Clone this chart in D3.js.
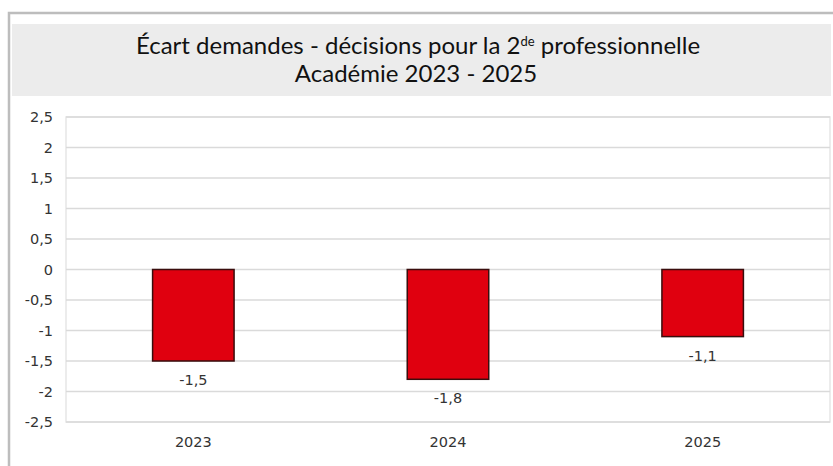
<!DOCTYPE html>
<html>
<head>
<meta charset="utf-8">
<script src="https://cdn.jsdelivr.net/npm/d3@7"></script>
<style>
    body { margin: 0; background: #fff; }
    svg { display: block; }
</style>
</head>
<body>
<svg id="chart" width="833" height="466"></svg>
<script>
// chart data
var years = ["2023", "2024", "2025"];
var ecarts = [-1.5, -1.8, -1.1];
var yTicks = [2.5, 2, 1.5, 1, 0.5, 0, -0.5, -1, -1.5, -2, -2.5];

var svg = d3.select("#chart");
var frFormat = function (v) { return String(v).replace(".", ","); };

var plot = {left: 66, right: 830, top: 117, bottom: 422};
var labelFont = "'DejaVu Sans', sans-serif";
var labelSize = 14.5;

var x = d3.scaleBand()
    .domain(years)
    .range([plot.left, plot.right])
    .paddingInner(0.68)
    .paddingOuter(0.34);

var y = d3.scaleLinear()
    .domain([-2.5, 2.5])
    .range([plot.bottom, plot.top]);

// outer frame
svg.append("path")
    .attr("d", "M9,466 V13 H833")
    .attr("fill", "none")
    .attr("stroke", "#bdbdbd")
    .attr("stroke-width", 2.5);

// title box
svg.append("rect")
    .attr("x", 12).attr("y", 24)
    .attr("width", 819).attr("height", 72)
    .attr("fill", "#ececec");

var title = svg.append("text")
    .attr("text-anchor", "middle")
    .style("font-family", "Lato, 'Open Sans', sans-serif")
    .style("font-size", "24px")
    .attr("fill", "#111");

var l1 = title.append("tspan").attr("x", 418).attr("y", 54);
l1.append("tspan").text("Écart demandes - décisions pour la 2");
l1.append("tspan").attr("dy", -8).style("font-size", "13px").text("de");
l1.append("tspan").attr("dy", 8).text(" professionnelle");
title.append("tspan").attr("x", 416).attr("y", 82).text("Académie  2023 - 2025");

// plot border
svg.append("rect")
    .attr("x", plot.left).attr("y", plot.top)
    .attr("width", plot.right - plot.left).attr("height", plot.bottom - plot.top)
    .attr("fill", "none")
    .attr("stroke", "#e6e6e6")
    .attr("stroke-width", 1.5);

// gridlines
svg.append("g")
    .selectAll("line")
    .data(yTicks)
    .enter()
    .append("line")
    .attr("x1", plot.left)
    .attr("x2", plot.right)
    .attr("y1", function (d) { return y(d); })
    .attr("y2", function (d) { return y(d); })
    .attr("stroke", "#dadada")
    .attr("stroke-width", 1.5);

// y axis labels
var yAxis = d3.axisLeft(y)
    .tickValues(yTicks)
    .tickFormat(frFormat)
    .tickSize(0)
    .tickPadding(13);

svg.append("g")
    .attr("transform", "translate(" + plot.left + ",0)")
    .call(yAxis)
    .attr("font-family", labelFont)
    .attr("font-size", labelSize)
    .call(function (g) { g.select(".domain").remove(); })
    .selectAll("text")
    .attr("fill", "#333");

// x axis labels
var xAxis = d3.axisBottom(x).tickSize(0).tickPadding(15);

svg.append("g")
    .attr("transform", "translate(0," + plot.bottom + ")")
    .call(xAxis)
    .attr("font-family", labelFont)
    .attr("font-size", labelSize)
    .call(function (g) { g.select(".domain").remove(); })
    .selectAll("text")
    .attr("fill", "#333");

// bars
svg.append("g")
    .selectAll("rect")
    .data(ecarts)
    .enter()
    .append("rect")
    .attr("x", function (d, i) { return x(years[i]); })
    .attr("y", function (d) { return y(Math.max(0, d)); })
    .attr("width", x.bandwidth())
    .attr("height", function (d) { return Math.abs(y(d) - y(0)); })
    .attr("fill", "#e0000f")
    .attr("stroke", "#3a0d0d")
    .attr("stroke-width", 1.5);

// value labels
svg.append("g")
    .selectAll("text")
    .data(ecarts)
    .enter()
    .append("text")
    .attr("x", function (d, i) { return x(years[i]) + x.bandwidth() / 2; })
    .attr("y", function (d) { return y(d) + 24; })
    .attr("text-anchor", "middle")
    .attr("font-family", labelFont)
    .attr("font-size", labelSize)
    .attr("fill", "#333")
    .text(frFormat);
</script>
</body>
</html>
